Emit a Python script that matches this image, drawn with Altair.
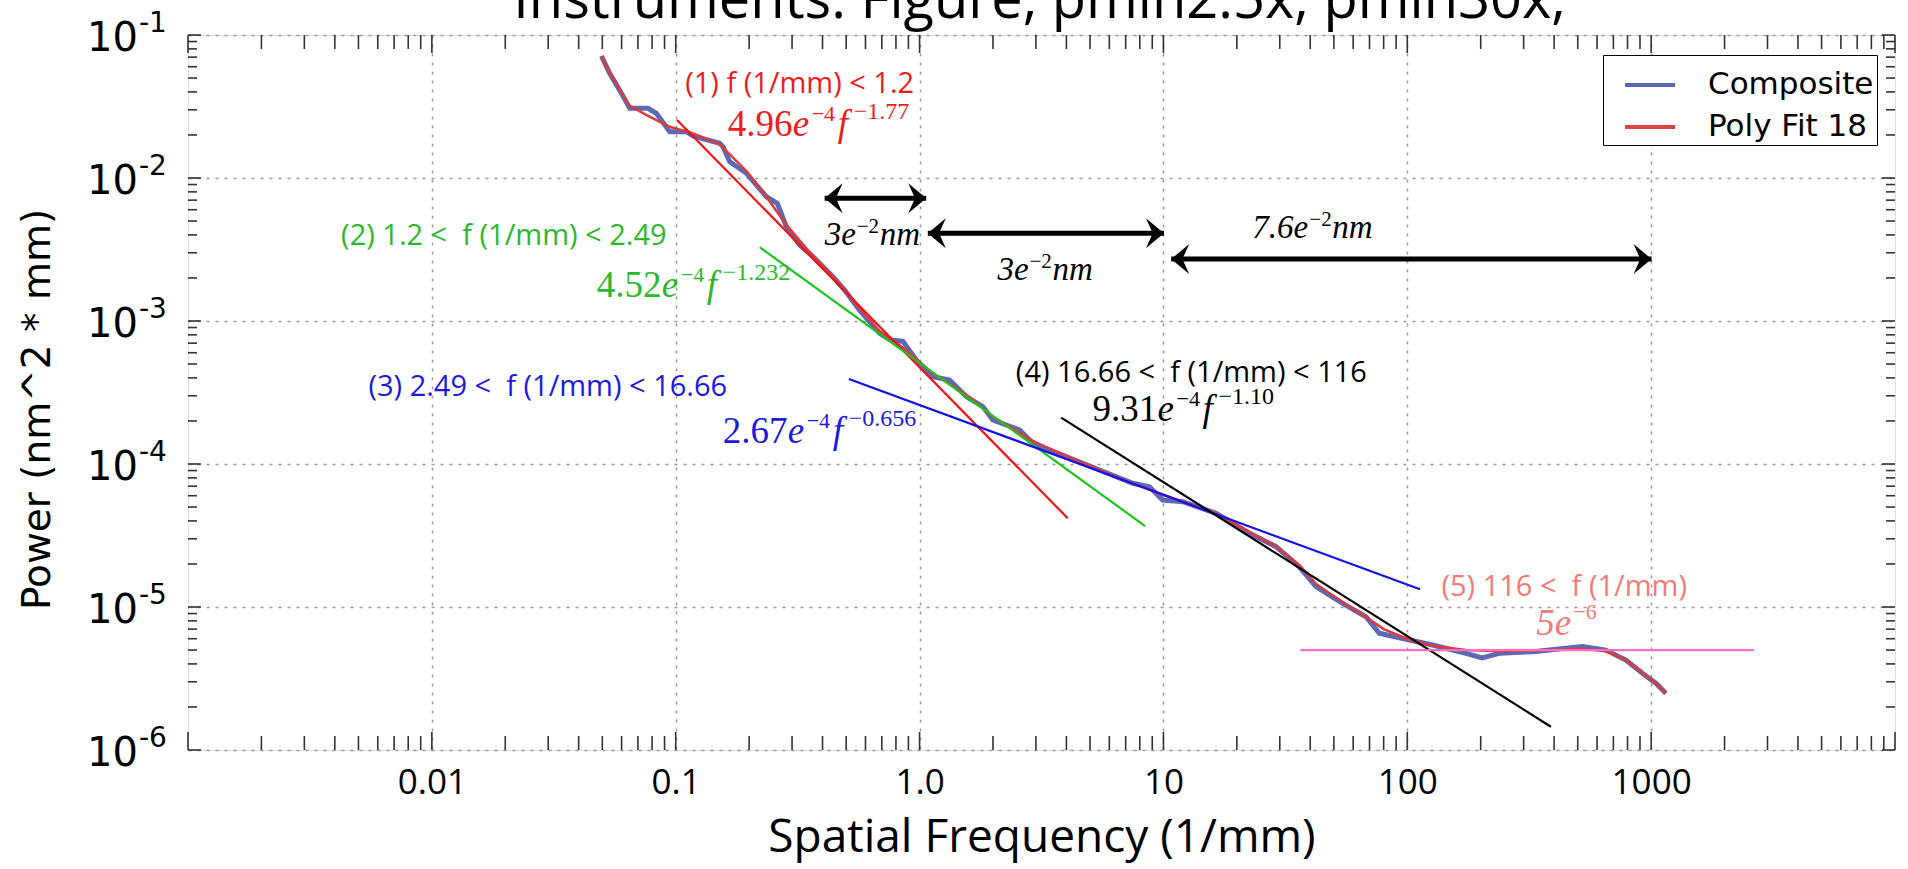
import altair as alt
import pandas as pd

# ---------------- data ----------------
SERIES = ["Composite", "Poly Fit 18"]
SERIES_COLORS = ["#5361b0", "#dd3a3a"]

COMP_F = [0.0496, 0.0536, 0.0599, 0.0648, 0.0770, 0.0833, 0.0945, 0.1106, 0.1177, 0.1515,
          0.1563, 0.1665, 0.1949, 0.2353, 0.2611, 0.2843, 0.3223, 0.3653, 0.4412, 0.4930,
          0.5675, 0.6857, 0.7536, 0.8542, 0.9694, 1.134, 1.327, 1.554, 1.817, 1.997,
          2.570, 2.913, 3.992, 5.467, 7.484, 8.76, 9.93, 12.0, 16.44, 22.5,
          28.97, 36.09, 42.25, 54.29, 67.7, 76.8, 101.9, 127.0, 174.0, 202.9,
          238.3, 326.3, 522.8, 652.2, 787.6, 921.1, 1045, 1149]
COMP_P = [0.0713, 0.0540, 0.0391, 0.0307, 0.0307, 0.0283, 0.0211, 0.0211, 0.0197, 0.0175,
          0.01656, 0.0130, 0.01079, 0.0074, 0.00665, 0.00456, 0.0034, 0.00282, 0.00204, 0.001647,
          0.00119, 0.00082, 0.00074, 0.00072, 0.000534, 0.000408, 0.000387, 0.000296, 0.000252, 0.000203,
          0.000173, 0.0001396, 0.0001125, 9.08e-5, 7.33e-5, 6.94e-5, 5.6e-5, 5.45e-5, 4.52e-5, 3.28e-5,
          2.64e-5, 1.91e-5, 1.39e-5, 1.06e-5, 8.55e-6, 6.55e-6, 5.88e-6, 5.42e-6, 4.74e-6, 4.40e-6,
          4.74e-6, 4.87e-6, 5.30e-6, 5.0e-6, 4.26e-6, 3.44e-6, 2.93e-6, 2.49e-6]

POLY_F = [0.0496, 0.0536, 0.0599, 0.0648, 0.077, 0.0945, 0.1177, 0.1515, 0.1949, 0.2353,
          0.2843, 0.3653, 0.4412, 0.5675, 0.6857, 0.8542, 1.134, 1.554, 1.997, 2.913,
          3.992, 5.467, 7.484, 10.26, 16.44, 22.5, 28.97, 36.09, 42.25, 54.29,
          67.7, 80.0, 101.9, 127.0, 174.0, 238.3, 326.3, 522.8, 652.2, 787.6,
          921.1, 1045, 1149]
POLY_P = [0.0713, 0.0540, 0.0395, 0.0320, 0.0272, 0.0228, 0.0205, 0.0172, 0.0112, 0.0074,
          0.0047, 0.00285, 0.00204, 0.00122, 0.00085, 0.00065, 0.00043, 0.000305, 0.000215, 0.000145,
          0.000113, 9.1e-5, 7.3e-5, 6.0e-5, 4.5e-5, 3.35e-5, 2.64e-5, 1.95e-5, 1.45e-5, 1.08e-5,
          8.5e-6, 7.0e-6, 5.9e-6, 5.35e-6, 5.0e-6, 4.9e-6, 4.95e-6, 5.1e-6, 4.9e-6, 4.25e-6,
          3.45e-6, 2.93e-6, 2.5e-6]

# fitted power-law segments (end points)
FIT_F0 = [0.1012, 0.221, 0.513, 3.808, 36.4]
FIT_P0 = [0.02544, 3.28e-3, 3.93e-4, 2.11e-4, 5.0e-6]
FIT_F1 = [4.054, 8.414, 112.7, 388.0, 2643.0]
FIT_P1 = [4.17e-5, 3.68e-5, 1.33e-5, 1.455e-6, 5.0e-6]
FIT_COLORS = ["#f01414", "#1ec41e", "#1212e8", "#000000", "#ff6ec7"]

# double arrows
ARROW_F0 = [0.408, 1.081, 10.76]
ARROW_F1 = [1.065, 10.05, 1004.0]
ARROW_P = [7.21e-3, 4.1e-3, 2.71e-3]

# range labels
NB = "\u00a0"
RANGE_LABELS = ["(1) f (1/mm) < 1.2", "(2) 1.2 <" + NB + " f (1/mm) < 2.49",
                "(3) 2.49 <" + NB + " f (1/mm) < 16.66",
                "(4) 16.66 <" + NB + " f (1/mm) < 116", "(5) 116 <" + NB + " f (1/mm)"]
RANGE_LABEL_F = [0.3223, 0.01973, 0.02988, 13.02, 440.0]
RANGE_LABEL_P = [0.0393, 0.0034, 0.0002988, 0.0003745, 1.193e-5]
TEXT_COLORS = ["#ee1c1c", "#2cb82c", "#1a1ae0", "#000000", "#f47a78"]

# formulas  a e^-4 f^b
FORMULA_COEF = ["4.96", "4.52", "2.67", "9.31"]
FORMULA_COEF_EXP = ["\u22124", "\u22124", "\u22124", "\u22124"]
FORMULA_EXP = ["\u22121.77", "\u22121.232", "\u22120.656", "\u22121.10"]
FORMULA_F = [0.1633, 0.04745, 0.1558, 5.117]
FORMULA_P = [0.01966, 0.001472, 0.0001402, 0.0001999]
PLATEAU_TEXT = ["5e", "\u22126"]
PLATEAU_F = 337.9
PLATEAU_P = 6.37e-6

# arrow labels
ARROW_LABEL_MANT = ["3e", "3e", "7.6e"]
ARROW_LABEL_EXP = ["\u22122", "\u22122", "\u22122"]
ARROW_LABEL_UNIT = ["nm", "nm", "nm"]
ARROW_LABEL_F = [0.408, 2.087, 23.16]
ARROW_LABEL_P = [0.0034, 0.001935, 0.003806]

X_TICKS = [0.01, 0.1, 1, 10, 100, 1000]
X_TICK_LABELS = ["0.01", "0.1", "1.0", "10", "100", "1000"]
Y_TICKS = [1e-6, 1e-5, 1e-4, 1e-3, 1e-2, 1e-1]
Y_TICK_BASE = ["10", "10", "10", "10", "10", "10"]
Y_TICK_EXP = ["-6", "-5", "-4", "-3", "-2", "-1"]

TITLE = ["Instruments: Figure, pmin2.5x, pmin30x,"]
X_TITLE = "Spatial Frequency (1/mm)"
Y_TITLE = "Power (nm^2 * mm)"

# ---------------- layout / style ----------------
W, H = 1707, 715
X_DOMAIN = [0.001, 10000]
Y_DOMAIN = [1e-6, 1e-1]
DX_DEC = W / 7.0
DY_DEC = H / 5.0
TICK_COLOR = "#333333"
SANS = "Open Sans"
SERIF = "Liberation Serif"


def label_expr(values, labels):
    pairs = sorted(zip(values, labels))
    expr = "'%s'" % pairs[-1][1]
    for v, lab in reversed(pairs[:-1]):
        expr = "datum.value < %g ? '%s' : (%s)" % (v * 3.1623, lab, expr)
    return expr


XS = alt.Scale(type="log", domain=X_DOMAIN, nice=False)
YS = alt.Scale(type="log", domain=Y_DOMAIN, nice=False)

XAX = alt.Axis(values=X_TICKS, labelExpr=label_expr(X_TICKS, X_TICK_LABELS), grid=True,
               gridDash=[3, 6], gridColor="#9a9a9a", gridWidth=1.5, ticks=False, tickSize=0,
               domain=False, labelFont=SANS, labelFontSize=35, labelColor="black",
               labelPadding=43, labelBaseline="alphabetic", labelOverlap=False, labelFlush=False,
               titleFont=SANS, titleFontSize=46, titleFontWeight="normal", titleColor="black",
               titleBaseline="alphabetic", titleY=101)
YAX = alt.Axis(values=Y_TICKS, labels=False, grid=True,
               gridDash=[3, 6], gridColor="#9a9a9a", gridWidth=1.5, ticks=False, tickSize=0,
               domain=False,
               titleFont="DejaVu Sans", titleFontSize=39, titleFontWeight="normal",
               titleColor="black", titleAngle=270, titleBaseline="middle", titleAlign="center",
               titleX=-151, titleY=374)


def xq(field):
    return alt.X(f"{field}:Q", scale=XS, axis=XAX, title=X_TITLE)


def yq(field):
    return alt.Y(f"{field}:Q", scale=YS, axis=YAX, title=Y_TITLE)


LEGEND = alt.Legend(title=None, orient="none", legendX=1415, legendY=20, symbolType="stroke",
                    symbolSize=2500, symbolStrokeWidth=4, symbolOffset=17, labelOffset=31,
                    labelFont="DejaVu Sans", labelFontSize=31, labelColor="black", padding=3,
                    rowPadding=0, strokeColor="black", fillColor="white", labelLimit=400)
COLOR = alt.Color("series:N", scale=alt.Scale(domain=SERIES, range=SERIES_COLORS), legend=LEGEND)

comp_df = pd.DataFrame({"f": COMP_F, "P": COMP_P, "series": SERIES[0]})
poly_df = pd.DataFrame({"f": POLY_F, "P": POLY_P, "series": SERIES[1]})

comp = alt.Chart(comp_df).mark_line(strokeWidth=5, opacity=0.95).encode(x=xq("f"), y=yq("P"), color=COLOR)
poly = alt.Chart(poly_df).mark_line(strokeWidth=2.5).encode(x=xq("f"), y=yq("P"), color=COLOR)

fit_df = pd.DataFrame({"f0": FIT_F0, "P0": FIT_P0, "f1": FIT_F1, "P1": FIT_P1, "c": FIT_COLORS})
fits = alt.Chart(fit_df).mark_rule(strokeWidth=2.2).encode(
    x=xq("f0"), x2="f1", y=yq("P0"), y2="P1", stroke=alt.Stroke("c:N", scale=None))

arrow_df = pd.DataFrame({"f0": ARROW_F0, "f1": ARROW_F1, "P": ARROW_P})
arrow_lines = alt.Chart(arrow_df).mark_rule(strokeWidth=5, color="black").encode(
    x=xq("f0"), x2="f1", y=yq("P"))
RIGHT_HEAD = "M0,0L-1.2,-1L-0.75,0L-1.2,1Z"
LEFT_HEAD = "M0,0L1.2,-1L0.75,0L1.2,1Z"
heads_r = alt.Chart(arrow_df).mark_point(shape=RIGHT_HEAD, filled=True, size=900, color="black",
                                          opacity=1, strokeWidth=0).encode(x=xq("f1"), y=yq("P"))
heads_l = alt.Chart(arrow_df).mark_point(shape=LEFT_HEAD, filled=True, size=900, color="black",
                                          opacity=1, strokeWidth=0).encode(x=xq("f0"), y=yq("P"))

# ---- text pieces ----
rows = []


def piece(f0, p0, dx, dy, text, color, size, kind):
    rows.append({"f": f0 * 10 ** (dx / DX_DEC), "P": p0 * 10 ** (dy / DY_DEC),
                 "text": text, "c": color, "s": size, "kind": kind})


for lab, f0, p0, c in zip(RANGE_LABELS, RANGE_LABEL_F, RANGE_LABEL_P, TEXT_COLORS):
    piece(f0, p0, 0, 0, lab, c, 29, "sans")
for coef, cexp, exp, f0, p0, c in zip(FORMULA_COEF, FORMULA_COEF_EXP, FORMULA_EXP,
                                      FORMULA_F, FORMULA_P, TEXT_COLORS):
    piece(f0, p0, 0, 0, coef, c, 37, "serif")
    piece(f0, p0, 65, 0, "e", c, 37, "italic")
    piece(f0, p0, 84, 15, cexp, c, 22, "serif")
    piece(f0, p0, 110, 0, "f", c, 37, "italic")
    piece(f0, p0, 126, 17, exp, c, 24, "serif")
piece(PLATEAU_F, PLATEAU_P, 0, 0, PLATEAU_TEXT[0], TEXT_COLORS[4], 37, "italic")
piece(PLATEAU_F, PLATEAU_P, 37, 16, PLATEAU_TEXT[1], TEXT_COLORS[4], 22, "serif")
for mant, ex, unit, f0, p0 in zip(ARROW_LABEL_MANT, ARROW_LABEL_EXP, ARROW_LABEL_UNIT,
                                  ARROW_LABEL_F, ARROW_LABEL_P):
    mw = 31 if len(mant) == 2 else 56
    piece(f0, p0, 0, 0, mant, "#000000", 33, "italic")
    piece(f0, p0, mw + 1, 12, ex, "#000000", 21, "serif")
    piece(f0, p0, mw + 24, 0, unit, "#000000", 33, "italic")

text_df = pd.DataFrame(rows)


def text_layer(kind, **kw):
    return alt.Chart(text_df[text_df["kind"] == kind]).mark_text(baseline="alphabetic", **kw).encode(
        x=xq("f"), y=yq("P"), text="text:N",
        fill=alt.Fill("c:N", scale=None), size=alt.Size("s:Q", scale=None))


t_sans = text_layer("sans", font=SANS, align="center")
t_serif = text_layer("serif", font=SERIF, align="left")
t_ital = text_layer("italic", font=SERIF, fontStyle="italic", align="left")

# ---- y tick labels: 10 with a raised exponent ----
ylab_df = pd.DataFrame({"v": Y_TICKS, "base": Y_TICK_BASE, "exp": Y_TICK_EXP})
ylab_base = alt.Chart(ylab_df).mark_text(font="DejaVu Sans", fontSize=40, align="right",
                                         baseline="middle", dy=4, color="black").encode(
    y=yq("v"), x=alt.value(-50), text="base:N")
ylab_exp = alt.Chart(ylab_df).mark_text(font="DejaVu Sans", fontSize=28, align="left",
                                        baseline="middle", dy=-11, color="black").encode(
    y=yq("v"), x=alt.value(-49), text="exp:N")

# ---- title (cut by the top edge as in the source) ----
title_df = pd.DataFrame({"t": TITLE})
title = alt.Chart(title_df).mark_text(font=SANS, fontSize=56, align="center", baseline="alphabetic",
                                      color="black").encode(
    x=alt.value(W / 2 - 2), y=alt.value(-17), text="t:N")

# ---- inward tick marks ----
X_MAJ = [10.0 ** k for k in range(-3, 5)]
X_MIN = [d * m for d in X_MAJ[:-1] for m in range(2, 10)]
Y_MAJ = [10.0 ** k for k in range(-6, 0)]
Y_MIN = [d * m for d in Y_MAJ[:-1] for m in range(2, 10)]
xmaj_df = pd.DataFrame({"v": X_MAJ})
xmin_df = pd.DataFrame({"v": X_MIN})
ymaj_df = pd.DataFrame({"v": Y_MAJ})
ymin_df = pd.DataFrame({"v": Y_MIN})


def xticks(df, y0, y1):
    return alt.Chart(df).mark_rule(color=TICK_COLOR, strokeWidth=1.6).encode(
        x=xq("v"), y=alt.value(y0), y2=alt.value(y1))


def yticks(df, x0, x1):
    return alt.Chart(df).mark_rule(color=TICK_COLOR, strokeWidth=1.6).encode(
        y=yq("v"), x=alt.value(x0), x2=alt.value(x1))


ticks = [xticks(xmaj_df, H, H - 18), xticks(xmin_df, H, H - 14),
         xticks(xmaj_df, 0, 18), xticks(xmin_df, 0, 14),
         yticks(ymaj_df, 0, 13), yticks(ymin_df, 0, 9),
         yticks(ymaj_df, W, W - 13), yticks(ymin_df, W, W - 9)]

chart = alt.layer(
    comp, poly, fits, arrow_lines, heads_r, heads_l, *ticks, t_sans, t_serif, t_ital,
    ylab_base, ylab_exp, title
).properties(
    width=W, height=H,
    autosize=alt.AutoSizeParams(type="none"),
    padding={"left": 188, "top": 35, "right": 13, "bottom": 119},
).configure_view(stroke="black", strokeWidth=3).configure(background="white")

chart.save("out.html", embed_options={"renderer": "svg", "actions": False})
